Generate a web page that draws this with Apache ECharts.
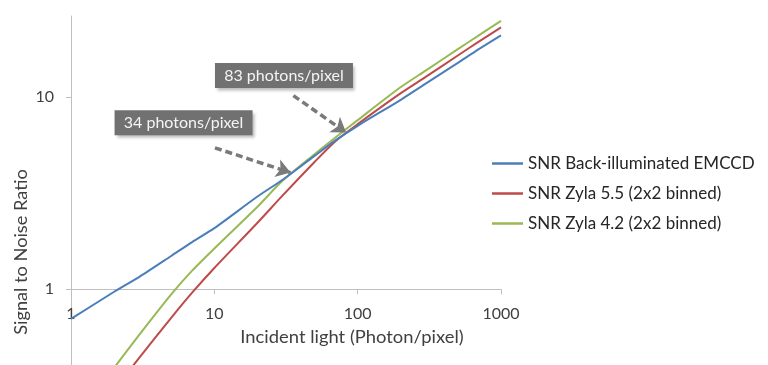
<!DOCTYPE html>
<html><head><meta charset="utf-8">
<script src="https://cdn.jsdelivr.net/npm/echarts@6/dist/echarts.min.js"></script>
<style>html,body{margin:0;padding:0;background:#fff}#c{width:768px;height:365px}</style>
</head><body><div id="c"></div>
<script>
// ---- data ----
const photons    = [1, 2, 3, 5, 7, 10, 20, 30, 50, 70, 100, 200, 300, 500, 700, 1000];
const snrEmccd   = [0.70, 0.97, 1.16, 1.49, 1.76, 2.08, 3.04, 3.72, 4.95, 5.96, 7.1, 9.7, 11.8, 15.1, 17.8, 21.0];
const snrZyla55  = [0.155, 0.30, 0.44, 0.71, 0.96, 1.29, 2.22, 3.08, 4.6, 5.9, 7.24, 10.5, 12.8, 16.5, 19.5, 23.1];
const snrZyla42  = [0.20, 0.39, 0.58, 0.94, 1.25, 1.63, 2.69, 3.68, 5.05, 6.17, 7.6, 11.3, 13.8, 17.8, 21.0, 25.0];
const seriesNames = ['SNR Back-illuminated EMCCD', 'SNR Zyla 5.5 (2x2 binned)', 'SNR Zyla 4.2 (2x2 binned)'];
const xTickValues = [1, 10, 100, 1000];
const yTickValues = [1, 10];
const calloutTexts = ['34 photons/pixel', '83 photons/pixel'];
const calloutPhotons = [34, 83];
const calloutSnr = [4.05, 6.55];

const colors = ['#4a7ebb', '#be4b48', '#98b954'];
const FONT = 'Lato, "Open Sans", sans-serif';
const zip = (xs, ys) => xs.map((x, i) => [x, ys[i]]);

// callout box centres and arrow starts (data space)
const boxCentres = [[6.1, 7.37], [30.6, 13.0]];
const arrowStarts = [[10.1, 5.45], [35.6, 10.2]];

const chart = echarts.init(document.getElementById('c'), null, {renderer: 'canvas'});
const option = {
  animation: false,
  backgroundColor: '#ffffff',
  textStyle: {fontFamily: FONT},
  grid: {left: 71, right: 267, top: 16, bottom: 0, containLabel: false},
  legend: {
    orient: 'vertical', left: 487, top: 150,
    icon: 'rect', itemWidth: 31, itemHeight: 2.5, itemGap: 13,
    textStyle: {fontFamily: FONT, fontSize: 17, color: '#262626', lineHeight: 17},
    data: seriesNames
  },
  xAxis: {
    type: 'log', logBase: 10, min: 1, max: 1000,
    offset: -75.7,
    axisLine: {lineStyle: {color: '#bfbfbf', width: 1}},
    axisTick: {show: true, length: 5, lineStyle: {color: '#bfbfbf'}},
    axisLabel: {color: '#404040', fontSize: 16, fontFamily: FONT, margin: 17,
      customValues: xTickValues, formatter: v => String(Math.round(v))},
    splitLine: {show: false},
    minorTick: {show: false}
  },
  yAxis: {
    type: 'log', logBase: 10, min: 0.403, max: 26.5,
    axisLine: {show: true, lineStyle: {color: '#bfbfbf', width: 1}},
    axisTick: {show: true, length: 5, lineStyle: {color: '#bfbfbf'}, customValues: yTickValues},
    axisLabel: {color: '#404040', fontSize: 16, fontFamily: FONT, margin: 17,
      customValues: yTickValues, formatter: v => String(Math.round(v))},
    splitLine: {show: true, showMinLine: false, showMaxLine: false, lineStyle: {color: '#c8c8c8', width: 1}}
  },
  graphic: [
    {type: 'text', x: 21, y: 252, rotation: Math.PI / 2, scaleX: 1.04,
      style: {text: 'Signal to Noise Ratio', fontFamily: FONT, fontSize: 17.5, fill: '#404040',
        textAlign: 'center', textVerticalAlign: 'middle'}},
    {type: 'text', x: 352, y: 337, scaleX: 1.05,
      style: {text: 'Incident light (Photon/pixel)', fontFamily: FONT, fontSize: 17.5, fill: '#404040',
        textAlign: 'center', textVerticalAlign: 'middle'}}
  ],
  series: [
    {
      name: seriesNames[0], type: 'line', data: zip(photons, snrEmccd),
      symbol: 'none', smooth: 0.25, color: colors[0], lineStyle: {width: 2, color: colors[0]}, z: 3,
      markLine: {
        silent: true, symbol: ['none', 'arrow'], symbolSize: 14,
        lineStyle: {type: [7, 4], width: 3.5, color: '#7a7a7a'}, label: {show: false},
        data: calloutPhotons.map((p, i) => [{coord: arrowStarts[i]}, {coord: [p, calloutSnr[i]]}])
      },
      markPoint: {
        silent: true, symbol: 'rect', symbolSize: [138, 25],
        itemStyle: {color: '#717171', shadowColor: 'rgba(0,0,0,0.28)', shadowBlur: 3, shadowOffsetX: 2, shadowOffsetY: 3},
        label: {show: true, position: 'inside', color: '#f4f4f4', fontFamily: FONT, fontSize: 16},
        data: calloutTexts.map((t, i) => ({coord: boxCentres[i], value: t, label: {formatter: t}}))
      }
    },
    {name: seriesNames[1], type: 'line', data: zip(photons, snrZyla55),
      symbol: 'none', smooth: 0.25, color: colors[1], lineStyle: {width: 2, color: colors[1]}, z: 2},
    {name: seriesNames[2], type: 'line', data: zip(photons, snrZyla42),
      symbol: 'none', smooth: 0.25, color: colors[2], lineStyle: {width: 2, color: colors[2]}, z: 2}
  ]
};
chart.setOption(option);
</script></body></html>
